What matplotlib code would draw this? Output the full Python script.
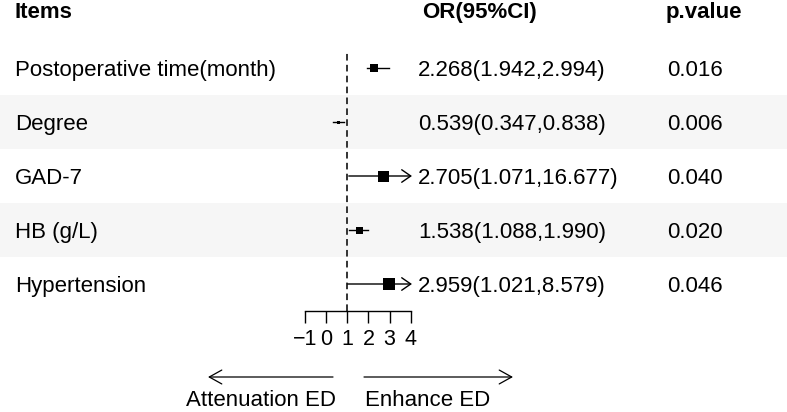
import matplotlib
matplotlib.use("Agg")
import matplotlib.pyplot as plt
from matplotlib.patches import ArrowStyle

# ---------------- data ----------------
items = ["Postoperative time(month)", "Degree", "GAD-7", "HB (g/L)", "Hypertension"]
or_est = [2.268, 0.539, 2.705, 1.538, 2.959]
ci_low = [1.942, 0.347, 1.071, 1.088, 1.021]
ci_high = [2.994, 0.838, 16.677, 1.990, 8.579]
p_values = ["0.016", "0.006", "0.040", "0.020", "0.046"]
x_ticks = [-1, 0, 1, 2, 3, 4]
headers = ["Items", "OR(95%CI)", "p.value"]
direction_labels = ["Attenuation ED", "Enhance ED"]
ref_value = 1

# ---------------- style / layout ----------------
box_px = [8, 3, 11, 7, 12]          # box side lengths in pixels
W, H = 787, 412
ROW_TOP, ROW_H = 41, 54
AXIS_Y = 311
X_LEFT, X_RIGHT = 305, 410.7
COL_X = [15, 418, 667]
BAND = "#f6f6f6"
FS = 16

plt.rcParams["font.family"] = ["Liberation Sans", "DejaVu Sans"]

fig = plt.figure(figsize=(W / 100, H / 100), dpi=100)

# background axes in pixel coordinates
bg = fig.add_axes([0, 0, 1, 1])
bg.set_xlim(0, W)
bg.set_ylim(H, 0)
bg.axis("off")

n = len(items)
for i in range(n):
    top = ROW_TOP + i * ROW_H
    if i % 2 == 1:
        bg.axhspan(top, top + ROW_H, color=BAND, lw=0, zorder=0)
    base = top + ROW_H / 2 + 8
    bg.text(COL_X[0], base, items[i], fontsize=FS, va="baseline", ha="left")
    bg.text(COL_X[1], base, f"{or_est[i]:.3f}({ci_low[i]:.3f},{ci_high[i]:.3f})",
            fontsize=FS, va="baseline", ha="left")
    bg.text(COL_X[2], base, p_values[i], fontsize=FS, va="baseline", ha="left")

for x, h in zip([15, 422, 666], headers):
    bg.text(x, 18, h, fontsize=FS, fontweight="bold", va="baseline", ha="left")

# direction arrows and labels
arr = ArrowStyle("->", head_length=0.9, head_width=0.5)
bg.annotate("", xy=(208, 377), xytext=(333, 377),
            arrowprops=dict(arrowstyle=arr, mutation_scale=10, lw=0.9,
                            color="black", shrinkA=0, shrinkB=0))
bg.annotate("", xy=(513, 377), xytext=(364, 377),
            arrowprops=dict(arrowstyle=arr, mutation_scale=10, lw=0.9,
                            color="black", shrinkA=0, shrinkB=0))
bg.text(261.5, 411.5, direction_labels[0], fontsize=FS, ha="center", va="bottom")
bg.text(427.5, 411.5, direction_labels[1], fontsize=FS, ha="center", va="bottom")

# forest axes
ax = fig.add_axes([X_LEFT / W, (H - AXIS_Y) / H, (X_RIGHT - X_LEFT) / W,
                   (AXIS_Y - ROW_TOP) / H])
ax.patch.set_alpha(0)
xmin, xmax = x_ticks[0], x_ticks[-1]
ax.set_xlim(xmin, xmax)
ax.set_ylim(n + 0.5, 0.5)

ref_top = 0.5 + (50 - ROW_TOP) / ROW_H
ln, = ax.plot([ref_value, ref_value], [n + 0.5, ref_top], color="#333333",
              lw=1.4, clip_on=False, zorder=1)
ln.set_dashes([3.4, 2.2])

ci_arrow = ArrowStyle("->", head_length=0.65, head_width=0.45)
for i in range(n):
    y = i + 1
    lo, hi = ci_low[i], ci_high[i]
    if hi > xmax:
        ax.annotate("", xy=(xmax + 0.06, y), xytext=(lo, y),
                    arrowprops=dict(arrowstyle=ci_arrow, mutation_scale=10, lw=1.0,
                                    color="black", shrinkA=0, shrinkB=0),
                    annotation_clip=False, zorder=2)
    else:
        ax.plot([lo, hi], [y, y], color="black", lw=1.0, zorder=2, clip_on=False)
    ax.plot([or_est[i]], [y], marker="s", ms=box_px[i] * 0.72, color="black",
            mec="black", mew=0, linestyle="none", zorder=3, clip_on=False)

ax.set_xticks(x_ticks)
ax.set_xticklabels([str(t).replace("-", "\u2212") for t in x_ticks])
ax.set_yticks([])
for s in ["top", "left", "right"]:
    ax.spines[s].set_visible(False)
ax.spines["bottom"].set_linewidth(1.0)
ax.tick_params(axis="x", length=8.6, width=1.0, labelsize=15.5, pad=4.5, direction="out")

fig.savefig("out.png", dpi=100)
